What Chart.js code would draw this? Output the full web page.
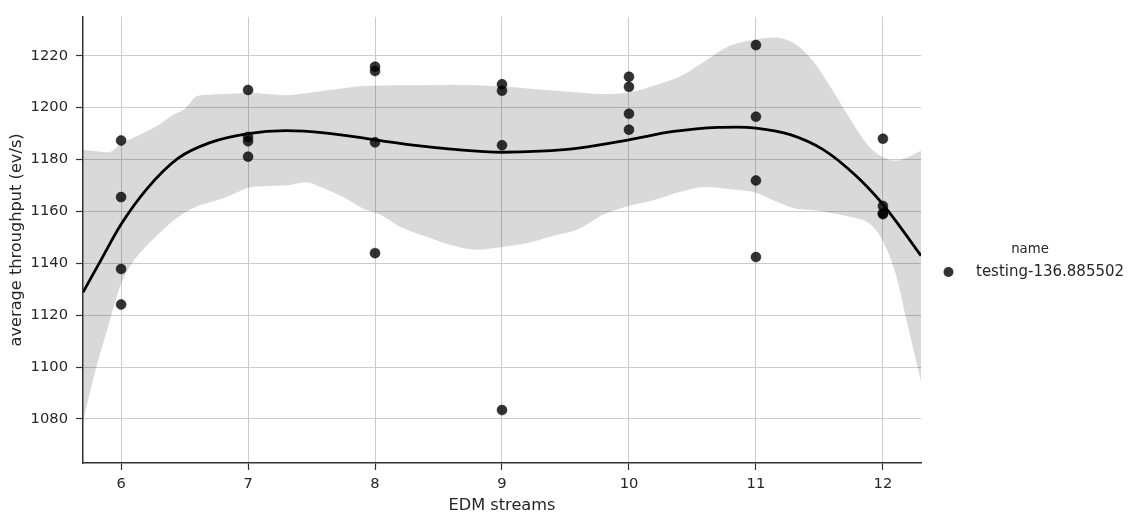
<!DOCTYPE html>
<html>
<head>
<meta charset="utf-8">
<script src="https://cdn.jsdelivr.net/npm/chart.js@4.4.1/dist/chart.umd.min.js"></script>
<style>
  html, body { margin: 0; padding: 0; background: #ffffff; }
  #wrap { width: 1141px; height: 523px; }
</style>
</head>
<body>
<div id="wrap"><canvas id="c" width="1141" height="523"></canvas></div>
<script>
// ---- data ----
const pointX = [6,6,6,6, 7,7,7,7, 8,8,8,8, 9,9,9,9, 10,10,10,10, 11,11,11,11, 12,12,12,12];
const pointY = [1187.3,1165.5,1137.8,1124.1, 1206.8,1188.7,1187.0,1181.1, 1215.8,1214.1,1186.6,1143.9,
                1209.0,1206.5,1185.5,1083.4, 1211.9,1208.0,1197.6,1191.5, 1224.1,1196.5,1171.9,1142.4,
                1188.0,1162.1,1159.3,1158.9];

const fitX = [5.70,5.85,6.00,6.20,6.45,6.70,7.00,7.30,7.60,8.00,8.30,8.60,9.00,9.30,9.60,10.00,10.35,10.70,10.85,11.00,11.27,11.53,11.79,12.00,12.13,12.30];
const fitY = [1128.8,1142.0,1155.0,1168.5,1180.5,1186.5,1190.0,1191.1,1190.3,1187.6,1185.5,1184.0,1182.8,1183.2,1184.4,1187.6,1190.8,1192.4,1192.5,1192.1,1189.6,1183.8,1173.6,1162.7,1154.4,1142.9];

const bandX = [5.70,5.80,5.90,6.00,6.10,6.20,6.30,6.40,6.50,6.60,6.70,6.80,6.90,7.00,7.15,7.30,7.45,7.60,7.75,7.90,8.05,8.20,8.40,8.60,8.80,9.00,9.20,9.40,9.60,9.80,10.00,10.20,10.40,10.60,10.80,11.00,11.15,11.30,11.45,11.60,11.75,11.90,12.00,12.10,12.20,12.30];
const bandUpper = [1183.8,1183.3,1182.8,1186.0,1188.5,1190.8,1193.5,1197.0,1199.5,1204.5,1205.0,1205.2,1205.4,1205.8,1205.2,1204.8,1205.5,1206.5,1207.5,1208.3,1208.5,1208.6,1208.6,1208.8,1208.6,1208.1,1207.4,1206.6,1205.8,1205.2,1205.8,1208.5,1212.0,1218.0,1224.0,1226.3,1227.0,1224.8,1218.0,1207.0,1195.0,1184.5,1181.0,1179.5,1181.0,1183.5];
const bandLower = [1079.0,1099.0,1116.0,1132.0,1141.0,1146.7,1151.5,1156.0,1159.5,1162.0,1163.5,1165.0,1167.0,1169.1,1169.8,1170.0,1171.2,1168.8,1165.5,1161.2,1158.5,1154.0,1150.3,1147.0,1145.2,1146.3,1147.8,1150.5,1153.1,1158.8,1162.1,1164.4,1167.5,1169.4,1168.5,1167.2,1164.0,1161.2,1160.5,1159.3,1157.8,1155.0,1148.5,1136.0,1115.0,1094.3];

const xTicks = [6,7,8,9,10,11,12];
const yTicks = [1080,1100,1120,1140,1160,1180,1200,1220];
const seriesName = 'testing-136.885502';
const legendTitle = 'name';

// ---- build datasets ----
const toXY = (xs, ys) => xs.map((x, i) => ({x: x, y: ys[i]}));

const FONT = "'DejaVu Sans', sans-serif";
const TXT = '#262626';

const legendPlugin = {
  id: 'customLegend',
  afterDraw(chart) {
    const ctx = chart.ctx;
    ctx.save();
    ctx.fillStyle = TXT;
    ctx.textBaseline = 'middle';
    ctx.textAlign = 'center';
    ctx.font = "13.3px " + FONT;
    ctx.fillText(legendTitle, 1030, 250);
    ctx.textAlign = 'left';
    ctx.font = "15px " + FONT;
    ctx.fillText(seriesName, 976, 272);
    ctx.beginPath();
    ctx.arc(948.5, 272, 5, 0, Math.PI * 2);
    ctx.fillStyle = 'rgba(0,0,0,0.8)';
    ctx.fill();
    ctx.restore();
  }
};

new Chart(document.getElementById('c'), {
  type: 'scatter',
  data: {
    datasets: [
      {
        label: seriesName,
        data: toXY(pointX, pointY),
        backgroundColor: 'rgba(0,0,0,0.8)',
        borderColor: 'rgba(0,0,0,0.8)',
        borderWidth: 0.5,
        pointRadius: 5,
        order: 0
      },
      {
        type: 'line',
        label: 'fit',
        data: toXY(fitX, fitY),
        borderColor: '#000000',
        borderWidth: 2.8,
        pointRadius: 0,
        cubicInterpolationMode: 'monotone',
        fill: false,
        order: 1
      },
      {
        type: 'line',
        label: 'lower',
        data: toXY(bandX, bandLower),
        borderWidth: 0,
        borderColor: 'rgba(0,0,0,0)',
        pointRadius: 0,
        cubicInterpolationMode: 'monotone',
        fill: false,
        order: 3
      },
      {
        type: 'line',
        label: 'upper',
        data: toXY(bandX, bandUpper),
        borderWidth: 0,
        borderColor: 'rgba(0,0,0,0)',
        backgroundColor: 'rgba(0,0,0,0.15)',
        pointRadius: 0,
        cubicInterpolationMode: 'monotone',
        fill: '-1',
        order: 2
      }
    ]
  },
  options: {
    responsive: false,
    devicePixelRatio: 1,
    animation: false,
    layout: { padding: { left: 0, right: 220, top: 15, bottom: 0 } },
    plugins: {
      legend: { display: false },
      tooltip: { enabled: false }
    },
    scales: {
      x: {
        type: 'linear',
        min: 5.7,
        max: 12.3,
        afterBuildTicks: (s) => { s.ticks = xTicks.map(v => ({value: v})); },
        afterFit: (s) => { s.height = 60; },
        grid: { color: '#cccccc', lineWidth: 1, tickColor: '#333333', tickLength: 7, tickWidth: 1.2 },
        border: { color: '#333333', width: 1.5 },
        ticks: { color: TXT, font: { family: FONT, size: 14.7 }, padding: 5, maxRotation: 0, callback: (v) => String(v) },
        title: { display: true, text: 'EDM streams', color: TXT, font: { family: FONT, size: 16.2 }, padding: { top: 0, bottom: 7 } }
      },
      y: {
        type: 'linear',
        min: 1063,
        max: 1235,
        afterBuildTicks: (s) => { s.ticks = yTicks.map(v => ({value: v})); },
        afterFit: (s) => { s.width = 83; },
        grid: { color: '#cccccc', lineWidth: 1, tickColor: '#333333', tickLength: 7, tickWidth: 1.2 },
        border: { color: '#333333', width: 1.5 },
        ticks: { color: TXT, font: { family: FONT, size: 14.7 }, padding: 8, callback: (v) => String(v) },
        title: { display: true, text: 'average throughput (ev/s)', color: TXT, font: { family: FONT, size: 16.2 }, padding: { top: 7, bottom: 0 } }
      }
    }
  },
  plugins: [legendPlugin]
});
</script>
</body>
</html>
